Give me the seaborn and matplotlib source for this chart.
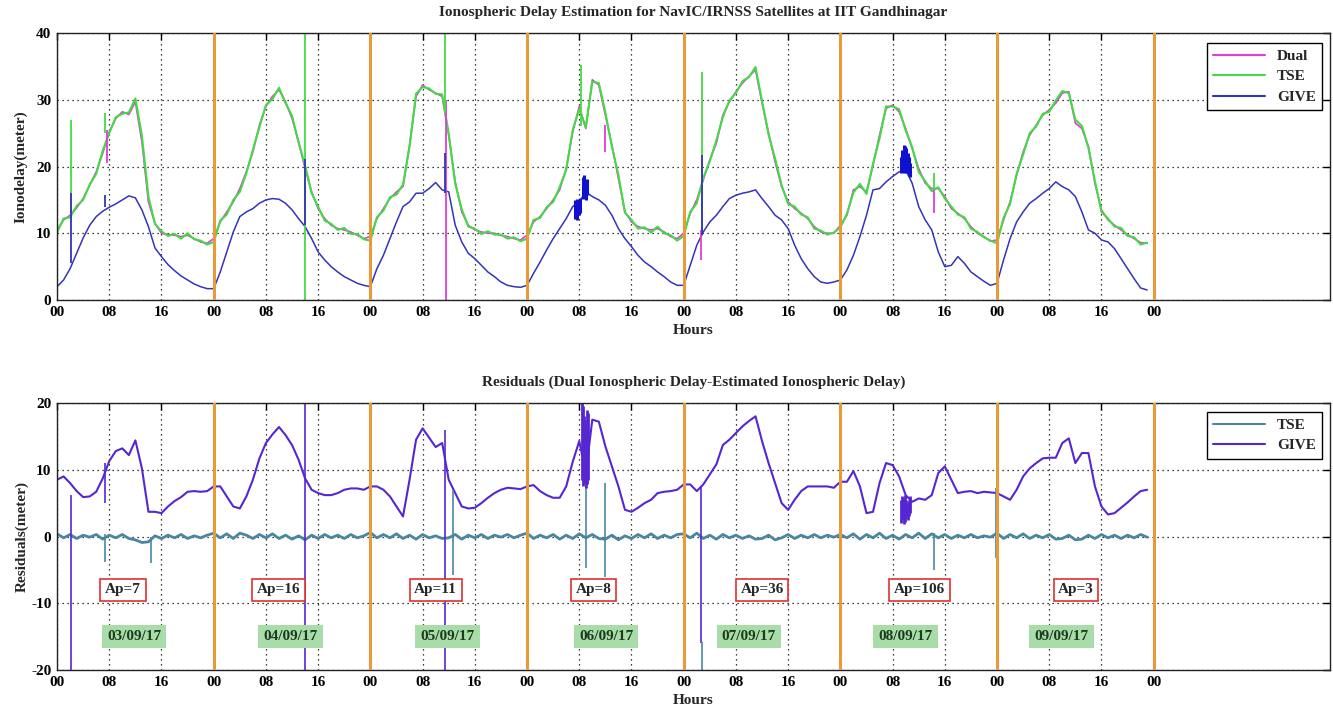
import numpy as np
import pandas as pd
import matplotlib
matplotlib.use("Agg")
import matplotlib.pyplot as plt
import seaborn as sns

# ---- data: hourly samples, 03/09/17 00h to 09/09/17 23h ----
hours = list(range(168))

dual_delay = [
    10.5, 12.0, 12.7, 13.8, 15.2, 17.2, 19.2, 22.0, 25.2, 27.2, 28.2, 27.8, 29.7, 23.7, 14.7, 11.5, 10.0, 9.8, 9.7, 9.5, 9.7, 9.2, 8.7, 8.5,
    9.2, 11.7, 13.2, 14.7, 16.7, 19.2, 22.2, 26.2, 29.0, 30.5, 31.5, 29.7, 27.2, 23.7, 19.7, 16.2, 13.7, 12.2, 11.2, 10.7, 10.5, 10.2, 9.7, 9.2,
    9.5, 12.2, 13.7, 15.2, 16.2, 17.0, 23.2, 30.5, 32.2, 31.5, 31.0, 30.5, 24.7, 17.7, 13.2, 11.2, 10.5, 10.2, 10.0, 10.0, 9.7, 9.5, 9.2, 9.0,
    9.7, 11.7, 12.5, 13.7, 15.0, 16.5, 19.7, 25.2, 29.0, 25.7, 33.0, 32.2, 27.7, 23.2, 18.2, 13.2, 11.7, 11.0, 10.7, 10.5, 10.7, 10.2, 9.5, 9.2,
    10.0, 13.0, 15.0, 18.0, 21.0, 23.5, 27.7, 29.7, 31.2, 32.5, 33.5, 34.5, 29.5, 25.0, 20.7, 17.0, 14.7, 13.7, 13.0, 12.2, 11.0, 10.2, 10.0, 10.0,
    11.2, 12.7, 16.5, 17.0, 16.2, 20.2, 24.7, 28.7, 29.2, 28.2, 25.7, 22.7, 19.7, 17.5, 16.7, 16.7, 15.5, 13.7, 13.0, 12.2, 11.0, 10.0, 9.5, 8.8,
    9.0, 12.0, 14.7, 18.7, 22.2, 24.7, 26.2, 27.7, 28.5, 29.5, 31.0, 31.2, 26.5, 25.7, 23.0, 17.5, 13.5, 12.0, 11.2, 10.5, 9.8, 9.2, 8.6, 8.5,
]

give_delay = [
    2.0, 3.0, 4.7, 7.0, 9.3, 11.2, 12.5, 13.3, 13.9, 14.4, 15.0, 15.6, 15.3, 13.5, 11.0, 7.8, 6.5, 5.3, 4.4, 3.6, 3.0, 2.4, 2.0, 1.7,
    1.7, 4.2, 7.2, 10.2, 12.5, 13.2, 13.7, 14.5, 15.0, 15.2, 15.1, 14.5, 13.5, 12.2, 11.0, 9.2, 7.2, 6.0, 5.0, 4.2, 3.5, 3.0, 2.5, 2.2,
    2.0, 4.7, 6.7, 9.2, 11.7, 14.0, 14.7, 16.0, 16.0, 16.7, 17.6, 16.5, 16.2, 11.2, 8.7, 7.0, 6.2, 5.2, 4.2, 3.5, 2.7, 2.2, 2.0, 1.9,
    2.2, 4.0, 5.7, 7.5, 9.2, 10.7, 12.2, 14.0, 14.7, 16.2, 15.5, 15.0, 14.2, 12.7, 10.7, 9.2, 8.0, 6.7, 5.7, 5.0, 4.2, 3.5, 2.7, 2.2,
    2.2, 5.2, 8.2, 10.2, 11.7, 12.7, 14.0, 15.2, 15.7, 16.0, 16.2, 16.5, 15.2, 14.0, 12.7, 12.0, 10.7, 8.2, 6.2, 4.7, 3.5, 2.7, 2.5, 2.7,
    3.0, 4.5, 6.7, 9.5, 12.7, 16.5, 16.7, 17.7, 18.5, 19.2, 19.5, 17.5, 14.0, 12.0, 10.5, 7.2, 5.0, 5.2, 6.5, 5.5, 4.2, 3.5, 2.8, 2.2,
    2.5, 6.0, 9.2, 11.7, 13.2, 14.5, 15.2, 16.0, 16.7, 17.7, 17.0, 16.5, 15.5, 13.2, 10.5, 10.0, 9.0, 8.7, 7.7, 6.2, 4.7, 3.2, 1.8, 1.5,
]

# dual minus TSE estimate
tse_residual = [
    0.4, -0.2, 0.3, -0.3, 0.2, -0.1, 0.3, -0.4, 0.2, -0.2, 0.3, -0.3, -0.5, -0.9, -0.8, 0.1, -0.3, 0.2, -0.2, 0.3, -0.3, 0.1, -0.2, 0.2,
    0.5, -0.2, 0.4, -0.3, 0.5, 0.2, -0.3, 0.3, -0.2, 0.4, -0.3, 0.2, -0.4, 0.1, -0.5, 0.2, -0.3, 0.3, -0.2, 0.2, -0.3, 0.3, -0.2, 0.1,
    0.6, -0.2, 0.3, -0.2, 0.4, -0.3, 0.2, -0.4, 0.3, -0.2, 0.1, -0.3, -0.2, 0.3, -0.4, 0.2, -0.2, 0.3, -0.3, 0.2, -0.1, 0.3, -0.2, 0.2,
    0.5, -0.3, 0.2, -0.2, 0.3, -0.4, 0.2, -0.3, 0.4, -0.2, 0.3, -0.3, -0.4, 0.2, -0.5, 0.1, -0.3, 0.3, -0.2, 0.4, -0.3, 0.2, -0.2, 0.3,
    0.4, -0.2, 0.5, -0.3, 0.2, -0.4, 0.3, -0.2, 0.2, -0.3, 0.1, -0.4, -0.3, 0.2, -0.5, -0.2, 0.3, -0.3, 0.2, -0.2, 0.3, -0.2, 0.2, -0.1,
    0.3, -0.2, 0.4, -0.4, 0.3, -0.2, 0.5, -0.3, 0.2, -0.4, 0.3, -0.2, 0.5, -0.3, 0.4, -0.2, 0.3, -0.3, 0.2, -0.2, 0.3, -0.2, 0.1, -0.1,
    0.5, -0.3, 0.3, -0.2, 0.4, -0.3, 0.2, -0.2, 0.3, -0.4, -0.3, 0.2, -0.5, -0.4, 0.2, -0.3, 0.3, -0.2, 0.2, -0.3, 0.2, -0.2, 0.3, -0.1,
]

# short receiver glitches (hour, low, high)
dual_spike_h = [7.6, 59.6, 84.0, 98.7, 134.4, 144.0]
dual_spike_lo = [20.5, 0.0, 22.2, 6.0, 13.0, 7.5]
dual_spike_hi = [25.5, 30.0, 26.2, 10.5, 16.7, 9.5]
tse_spike_h = [2.1, 7.4, 38.0, 59.5, 80.3, 98.8, 134.3]
tse_spike_lo = [11.7, 25.0, 0.0, 28.0, 26.0, 10.0, 16.5]
tse_spike_hi = [27.0, 28.0, 40.0, 40.0, 35.2, 34.2, 19.0]
give_spike_h = [2.1, 7.4, 38.0, 59.5, 98.8]
give_spike_lo = [5.5, 14.0, 11.2, 16.0, 9.7]
give_spike_hi = [16.0, 15.8, 21.2, 22.0, 21.7]
give_burst_h = [79.3, 79.5, 79.7, 79.9, 80.1, 80.6, 80.8, 81.0, 81.2,
                129.3, 129.5, 129.7, 129.9, 130.1, 130.3, 130.5, 130.7]
give_burst_lo = [12.2, 12.5, 12.0, 12.8, 13.0, 15.2, 15.5, 15.0, 15.8,
                 19.0, 19.2, 19.0, 19.3, 19.0, 19.2, 18.8, 18.5]
give_burst_hi = [15.0, 14.8, 15.2, 14.5, 15.3, 18.5, 18.8, 17.5, 18.2,
                 21.5, 22.5, 23.2, 23.0, 22.8, 22.0, 21.5, 20.5]

res_give_spike_h = [2.1, 7.4, 38.0, 59.4, 98.7]
res_give_spike_lo = [-20.0, 5.0, -20.0, -20.0, -16.0]
res_give_spike_hi = [6.2, 11.0, 20.0, 16.0, 7.5]
res_tse_spike_h = [7.4, 14.4, 60.6, 81.1, 84.0, 98.8, 134.4, 143.8]
res_tse_spike_lo = [-3.8, -4.0, -5.8, -4.7, -6.0, -20.0, -5.0, -3.2]
res_tse_spike_hi = [0.3, 0.0, 7.0, 8.2, 8.0, -15.8, 0.5, 7.3]
res_give_burst_h = [80.4, 80.6, 80.8, 81.0, 81.2, 81.4,
                    129.3, 129.5, 129.7, 129.9, 130.1, 130.3, 130.5, 130.7]
res_give_burst_lo = [8.5, 7.5, 8.0, 7.2, 7.8, 8.5, 2.0, 2.5, 1.8, 2.2, 2.8, 2.5, 3.0, 3.5]
res_give_burst_hi = [20.0, 19.5, 18.0, 17.5, 19.0, 18.5, 5.5, 6.0, 5.8, 6.2, 5.5, 5.0, 5.5, 6.0]

# daily labels
day_breaks = [24, 48, 72, 96, 120, 144, 168]
ap_text = ["Ap=7", "Ap=16", "Ap=11", "Ap=8", "Ap=36", "Ap=106", "Ap=3"]
ap_hour = [10.1, 33.9, 58.0, 82.2, 108.0, 132.1, 156.1]
date_text = ["03/09/17", "04/09/17", "05/09/17", "06/09/17", "07/09/17", "08/09/17", "09/09/17"]
date_hour = [11.8, 35.8, 59.8, 84.1, 106.0, 130.0, 153.9]

# ---- derived series ----
dual = np.array(dual_delay)
give = np.array(give_delay)
res_tse = np.array(tse_residual)
tse = dual - res_tse
res_give = dual - give

top = pd.DataFrame({"Hours": hours, "Dual": dual, "TSE": tse, "GIVE": give})
bot = pd.DataFrame({"Hours": hours, "TSE": res_tse, "GIVE": res_give})

# ---- style ----
sns.set_style("white")
plt.rcParams["font.family"] = ["Liberation Serif", "DejaVu Serif"]
plt.rcParams["font.weight"] = "bold"
plt.rcParams["axes.titleweight"] = "bold"
plt.rcParams["axes.labelweight"] = "bold"
plt.rcParams["axes.unicode_minus"] = False

C_DUAL = "#E03CD8"
C_TSE = "#44DA44"
C_GIVE = "#3434BA"
C_RTSE = "#4A86A2"
C_RGIVE = "#5526D2"
C_DAY = "#E89A38"

fig = plt.figure(figsize=(13.33, 7.15), dpi=100)
ax1 = fig.add_axes([0.0428, 0.5804, 0.9549, 0.3734])
ax2 = fig.add_axes([0.0428, 0.0629, 0.9549, 0.3735])

# top panel
sns.lineplot(data=top, x="Hours", y="Dual", color=C_DUAL, lw=1.2, label="Dual", ax=ax1, estimator=None)
sns.lineplot(data=top, x="Hours", y="TSE", color=C_TSE, lw=1.5, label="TSE", ax=ax1, estimator=None)
sns.lineplot(data=top, x="Hours", y="GIVE", color=C_GIVE, lw=1.1, label="GIVE", ax=ax1, estimator=None)
ax1.vlines(dual_spike_h, dual_spike_lo, dual_spike_hi, color=C_DUAL, lw=1.3, zorder=2.5)
ax1.vlines(tse_spike_h, tse_spike_lo, tse_spike_hi, color=C_TSE, lw=1.3, zorder=2.5)
ax1.vlines(give_spike_h, give_spike_lo, give_spike_hi, color=C_GIVE, lw=1.3, zorder=2.5)
ax1.vlines(give_burst_h, give_burst_lo, give_burst_hi, color="#1010D0", lw=2.2, zorder=2.5)

# bottom panel
sns.lineplot(data=bot, x="Hours", y="TSE", color=C_RTSE, lw=2.0, label="TSE", ax=ax2, estimator=None)
sns.lineplot(data=bot, x="Hours", y="GIVE", color=C_RGIVE, lw=1.5, label="GIVE", ax=ax2, estimator=None)
ax2.vlines(res_give_spike_h, res_give_spike_lo, res_give_spike_hi, color=C_RGIVE, lw=1.2, zorder=2.5)
ax2.vlines(res_tse_spike_h, res_tse_spike_lo, res_tse_spike_hi, color=C_RTSE, lw=1.2, zorder=2.5)
ax2.vlines(res_give_burst_h, res_give_burst_lo, res_give_burst_hi, color=C_RGIVE, lw=2.0, zorder=2.5)

xt = np.arange(0, 169, 8)
xtl = [f"{int(h) % 24:02d}" for h in xt]

for ax, ylim, yt in [(ax1, (0, 40), [0, 10, 20, 30, 40]), (ax2, (-20, 20), [-20, -10, 0, 10, 20])]:
    ax.set_xlim(0, 195)
    ax.set_ylim(*ylim)
    ax.set_xticks(xt)
    ax.set_xticklabels(xtl)
    ax.set_yticks(yt)
    ax.grid(True, color="black", linestyle=(0, (1, 3)), linewidth=0.9)
    ax.set_axisbelow(True)
    for d in day_breaks:
        ax.axvline(d, color=C_DAY, lw=2.2, zorder=3)
    ax.tick_params(direction="in", top=True, right=True, length=5, width=1,
                   labelsize=11, pad=4, colors="black")
    for s in ax.spines.values():
        s.set_color("#222222")
        s.set_linewidth(1.0)
    ax.set_xlabel("Hours", fontsize=11, labelpad=4)

ax1.set_title("Ionospheric Delay Estimation for NavIC/IRNSS Satellites at IIT Gandhinagar",
              fontsize=11, pad=12)
ax1.set_ylabel("Ionodelay(meter)", fontsize=11, labelpad=6)
ax2.set_title("Residuals (Dual Ionospheric Delay-Estimated Ionospheric Delay)", fontsize=11, pad=12)
ax2.set_ylabel("Residuals(meter)", fontsize=11, labelpad=2)

for ax, anchor in [(ax1, (0.9937, 0.9625)), (ax2, (0.9937, 0.966))]:
    leg = ax.legend(loc="upper right", bbox_to_anchor=anchor, borderaxespad=0,
                    frameon=True, fancybox=False, framealpha=1, edgecolor="black",
                    fontsize=11, handlelength=3.4, labelspacing=0.45)
    leg.get_frame().set_linewidth(1.0)
    for line in leg.get_lines():
        line.set_linewidth(1.5)

for txt, h in zip(ap_text, ap_hour):
    ax2.text(h, -8.0, txt, ha="center", va="center", fontsize=11, zorder=5,
             bbox=dict(boxstyle="square,pad=0.3", fc="white", ec="#E03030", lw=1.2))
for txt, h in zip(date_text, date_hour):
    ax2.text(h, -15.0, txt, ha="center", va="center", fontsize=11, color="#1E3A1E", zorder=5,
             bbox=dict(boxstyle="square,pad=0.35", fc="#A8DCA8", ec="none"))

fig.savefig("out.png", dpi=100)
